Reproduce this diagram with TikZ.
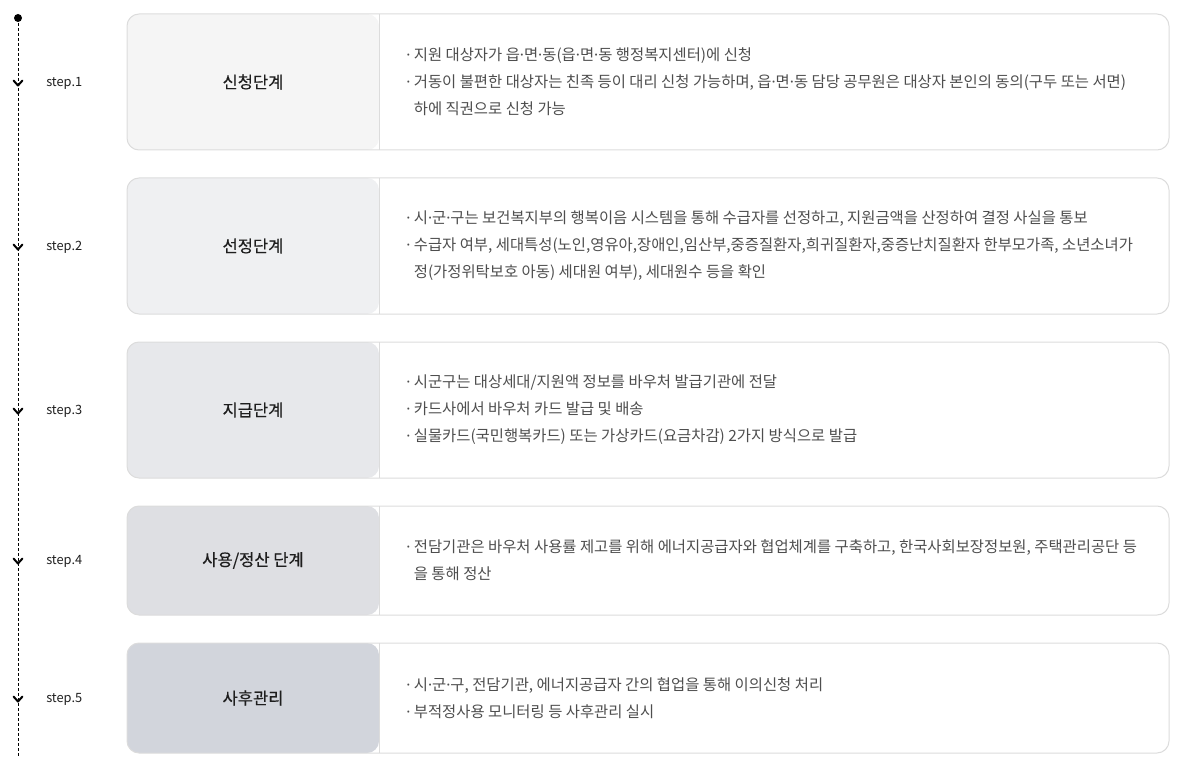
\documentclass[tikz,border=0pt]{standalone}
\usepackage{fontspec}
\setmainfont{Noto Sans CJK KR}
\newfontfamily\dotfont{Noto Sans}
\newfontfamily\headfont[FakeBold=0.5]{Noto Sans CJK KR}
\usetikzlibrary{positioning}

\definecolor{edge}{HTML}{DCDCDC}
\definecolor{panelA}{HTML}{F5F5F5}
\definecolor{panelB}{HTML}{EFF0F2}
\definecolor{panelC}{HTML}{E7E8EB}
\definecolor{panelD}{HTML}{DEDFE3}
\definecolor{panelE}{HTML}{D2D5DC}
\definecolor{body}{HTML}{4E4E4E}
\definecolor{head}{HTML}{1E1E1E}

% narrow middle dot and bullet
\newcommand{\md}{{\dotfont ·}}
\newcommand{\bul}{{\dotfont ·}\ }
\newcommand{\hangpad}{\phantom{\bul}}

\begin{document}
\begin{tikzpicture}[x=0.75pt, y=-0.75pt,
	card/.style={draw=edge, fill=white, line width=0.75pt, rounded corners=9pt,
		minimum width=781.5pt, inner sep=0pt,
		path picture={
			\fill[#1] (path picture bounding box.north west) rectangle ([xshift=189pt]path picture bounding box.south west);
			\draw[edge, line width=0.75pt] ([xshift=189pt]path picture bounding box.north west) -- ([xshift=189pt]path picture bounding box.south west);
		}},
	title/.style={text=head, font=\headfont\fontsize{12.4}{14}\selectfont, inner sep=0pt},
	desc/.style={anchor=west, align=left, text=body, inner sep=0pt, font=\fontsize{11.55}{20.25}\selectfont},
	steplabel/.style={anchor=west, text=head, inner sep=0pt, font=\fontsize{9.6}{11}\selectfont},
	chev/.style={line width=1.5pt, line cap=round, line join=round},
	timeline/.style={line width=0.75pt, dash pattern=on 2.25pt off 1.5pt}]
	\useasboundingbox (0,0) rectangle (1203,781);

	% time line on the left
	\coordinate (top) at (18,18);
	\coordinate (bottom) at (18,758);
	\draw[timeline] (top) -- (bottom);
	\fill (top) circle (3pt);

	\coordinate (s1) at (18,83);
	\coordinate (s2) at (18,247);
	\coordinate (s3) at (18,411);
	\coordinate (s4) at (18,561);
	\coordinate (s5) at (18,699);
	\draw[chev] ([shift={(-4.5,-2.5)}]s1) -- ([shift={(0,2.5)}]s1) -- ([shift={(4.5,-2.5)}]s1);
	\draw[chev] ([shift={(-4.5,-2.5)}]s2) -- ([shift={(0,2.5)}]s2) -- ([shift={(4.5,-2.5)}]s2);
	\draw[chev] ([shift={(-4.5,-2.5)}]s3) -- ([shift={(0,2.5)}]s3) -- ([shift={(4.5,-2.5)}]s3);
	\draw[chev] ([shift={(-4.5,-2.5)}]s4) -- ([shift={(0,2.5)}]s4) -- ([shift={(4.5,-2.5)}]s4);
	\draw[chev] ([shift={(-4.5,-2.5)}]s5) -- ([shift={(0,2.5)}]s5) -- ([shift={(4.5,-2.5)}]s5);

	\node[steplabel] (lab1) at (46,83) {step.1};
	\node[steplabel] (lab2) at (46,247) {step.2};
	\node[steplabel] (lab3) at (46,411) {step.3};
	\node[steplabel] (lab4) at (46,561) {step.4};
	\node[steplabel] (lab5) at (46,699) {step.5};

	% cards
	\node[card=panelA, minimum height=102pt] (card1) at (648,82) {};
	\node[card=panelB, minimum height=102pt] (card2) at (648,246) {};
	\node[card=panelC, minimum height=102pt] (card3) at (648,410) {};
	\node[card=panelD, minimum height=81.75pt] (card4) at (648,560.5) {};
	\node[card=panelE, minimum height=82.5pt] (card5) at (648,698) {};

	\node[title] (title1) at (253,82) {신청단계};
	\node[title] (title2) at (253,246) {선정단계};
	\node[title] (title3) at (253,410) {지급단계};
	\node[title] (title4) at (253,560.5) {사용/정산 단계};
	\node[title] (title5) at (253,698) {사후관리};

	\node[desc] (desc1) at (406,82) {\bul 지원 대상자가 읍\md 면\md 동(읍\md 면\md 동 행정복지센터)에 신청\\
		\bul 거동이 불편한 대상자는 친족 등이 대리 신청 가능하며, 읍\md 면\md 동 담당 공무원은 대상자 본인의 동의(구두 또는 서면)\\
		\hangpad 하에 직권으로 신청 가능};
	\node[desc] (desc2) at (406,246) {\bul 시\md 군\md 구는 보건복지부의 행복이음 시스템을 통해 수급자를 선정하고, 지원금액을 산정하여 결정 사실을 통보\\
		\bul 수급자 여부, 세대특성(노인,영유아,장애인,임산부,중증질환자,희귀질환자,중증난치질환자 한부모가족, 소년소녀가\\
		\hangpad 정(가정위탁보호 아동) 세대원 여부), 세대원수 등을 확인};
	\node[desc] (desc3) at (406,410) {\bul 시군구는 대상세대/지원액 정보를 바우처 발급기관에 전달\\
		\bul 카드사에서 바우처 카드 발급 및 배송\\
		\bul 실물카드(국민행복카드) 또는 가상카드(요금차감) 2가지 방식으로 발급};
	\node[desc] (desc4) at (406,560.5) {\bul 전담기관은 바우처 사용률 제고를 위해 에너지공급자와 협업체계를 구축하고, 한국사회보장정보원, 주택관리공단 등\\
		\hangpad 을 통해 정산};
	\node[desc] (desc5) at (406,698) {\bul 시\md 군\md 구, 전담기관, 에너지공급자 간의 협업을 통해 이의신청 처리\\
		\bul 부적정사용 모니터링 등 사후관리 실시};
\end{tikzpicture}
\end{document}
